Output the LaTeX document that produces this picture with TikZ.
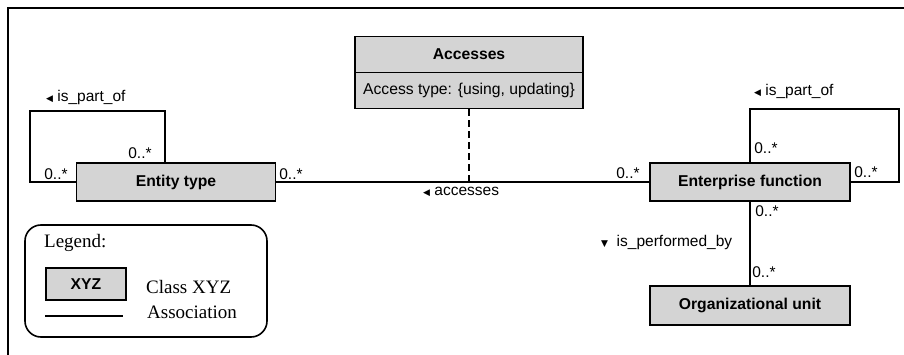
\documentclass[tikz,border=0pt]{standalone}
\usepackage{fontspec}
\setmainfont{Liberation Serif}
\setsansfont{Liberation Sans}
\newfontfamily\symfont{DejaVu Sans}
\begin{document}
\begin{tikzpicture}[x=1pt,y=-1pt,
  cls/.style={draw, line width=1.8pt, fill=black!17, font=\sffamily\bfseries\fontsize{15.7}{18}\selectfont, inner sep=0pt, minimum height=38pt},
  lbl/.style={font=\sffamily\fontsize{15.5}{18}\selectfont, inner sep=0pt},
  leg/.style={font=\rmfamily\fontsize{19}{22}\selectfont, inner sep=0pt, anchor=west},
  conn/.style={line width=1.8pt},
]
\useasboundingbox (0,0) rectangle (904,355);
% frame
\coordinate (fa) at (8,356);
\coordinate (fb) at (8,8);
\coordinate (fc) at (905,8);
\draw[line width=1.6pt] (fa) -- (fb) -- (fc);

% classes
\node[cls, minimum width=199pt] (ent) at (176,182) {Entity type};
\node[cls, minimum width=228pt, minimum height=36pt] (acc) at (469,54.5) {Accesses};
\node[cls, minimum width=228pt, minimum height=36pt, font=\sffamily\fontsize{15.7}{18}\selectfont] (acct) at (469,90.5) {Access type: \{using, updating\}};
\node[cls, minimum width=200pt] (ef) at (750,182) {Enterprise function};
\node[cls, minimum width=200pt, minimum height=39pt] (org) at (750,305.5) {Organizational unit};

% associations
\draw[conn] (ent.east) -- (ef.west);
\coordinate (mid) at (acct.south |- ent.east);
\draw[conn, dash pattern=on 7pt off 4pt] (acct.south) -- (mid);

\coordinate (el1) at (30,111);
\coordinate (el2) at (165,111);
\draw[conn] (ent.west) -| (el1) -- (el2) -- (el2 |- ent.north);

\coordinate (fl1) at (ef.north |- 0,109);
\coordinate (fl2) at (899,109);
\draw[conn] (ef.north) -- (fl1) -- (fl2) |- (ef.east);

\draw[conn] (ef.south) -- (org.north);

% multiplicities
\node[lbl] (m1) at (56,174) {0..*};
\node[lbl] (m2) at (140,153) {0..*};
\node[lbl] (m3) at (291,174) {0..*};
\node[lbl] (m4) at (628,173) {0..*};
\node[lbl] (m5) at (766,148) {0..*};
\node[lbl] (m6) at (866,172) {0..*};
\node[lbl] (m7) at (767,211) {0..*};
\node[lbl] (m8) at (764,272) {0..*};

% association names
\node[lbl, anchor=west] (n1) at (46,97) {{\symfont\fontsize{9}{10}\selectfont ◀}\ is\_part\_of};
\node[lbl, anchor=west] (n2) at (754,91) {{\symfont\fontsize{9}{10}\selectfont ◀}\ is\_part\_of};
\node[lbl, anchor=west] (n3) at (423,192) {{\symfont\fontsize{9}{10}\selectfont ◀}\ accesses};
\node[lbl, anchor=west] (n4) at (601,242) {{\symfont\fontsize{9}{10}\selectfont ▼}\ \ is\_performed\_by};

% legend
\draw[line width=1.6pt, rounded corners=16pt] (25,225) rectangle (267,337);
\node[leg] (lt) at (44,243) {Legend:};
\node[cls, minimum width=80pt, minimum height=32pt] (xyz) at (86,284) {XYZ};
\node[leg] (lc) at (146,287) {Class XYZ};
\node[leg] (la) at (147,312) {Association};
\coordinate (l1) at (45,316);
\coordinate (l2) at (123,316);
\draw[conn] (l1) -- (l2);
\end{tikzpicture}
\end{document}
